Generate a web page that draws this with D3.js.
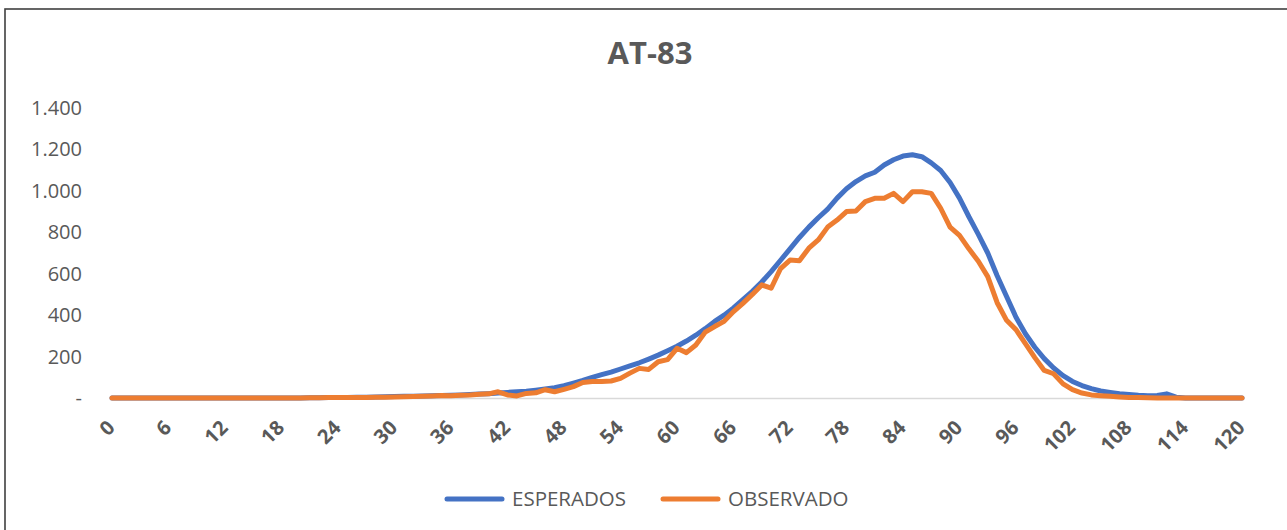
<!DOCTYPE html>
<html>
<head>
<meta charset="utf-8">
<script src="https://cdn.jsdelivr.net/npm/d3@7"></script>
<style>
  body { margin: 0; background: #fff; }
  text { font-family: "Open Sans", sans-serif; fill: #595959; }
</style>
</head>
<body>
<svg class="chart"></svg>
<script>
// AT-83 chart

var categories = [
  0, 1, 2, 3, 4, 5, 6, 7, 8, 9, 10, 11, 12, 13, 14, 15, 16, 17, 18, 19,
  20, 21, 22, 23, 24, 25, 26, 27, 28, 29, 30, 31, 32, 33, 34, 35, 36, 37, 38, 39,
  40, 41, 42, 43, 44, 45, 46, 47, 48, 49, 50, 51, 52, 53, 54, 55, 56, 57, 58, 59,
  60, 61, 62, 63, 64, 65, 66, 67, 68, 69, 70, 71, 72, 73, 74, 75, 76, 77, 78, 79,
  80, 81, 82, 83, 84, 85, 86, 87, 88, 89, 90, 91, 92, 93, 94, 95, 96, 97, 98, 99,
  100, 101, 102, 103, 104, 105, 106, 107, 108, 109, 110, 111, 112, 113, 114, 115, 116, 117, 118, 119,
  120
];

var esperados = [
  0, 0, 0, 0, 0, 0, 0, 0, 0, 0, 0, 0, 0, 0, 0, 0, 0, 0, 0, 0,
  0, 1, 1, 2, 3, 3, 4, 4, 5, 6, 7, 8, 9, 10, 11, 12, 13, 15, 17, 19,
  21, 24, 27, 30, 33, 38, 44, 50, 60, 72, 85, 100, 113, 125, 140, 155, 170, 188, 207, 228,
  250, 275, 303, 335, 370, 400, 435, 475, 515, 560, 610, 665, 720, 775, 825, 870, 912, 965, 1010, 1045,
  1072, 1090, 1125, 1150, 1168, 1174, 1165, 1135, 1098, 1040, 965, 875, 790, 700, 590, 490, 390, 310, 245, 190,
  145, 108, 80, 60, 45, 34, 27, 21, 17, 13, 11, 12, 20, 4, 0, 0, 0, 0, 0, 0,
  0
];

var observado = [
  0, 0, 0, 0, 0, 0, 0, 0, 0, 0, 0, 0, 0, 0, 0, 0, 0, 0, 0, 0,
  0, 1, 1, 2, 3, 2, 3, 3, 4, 4, 5, 6, 7, 8, 10, 12, 11, 13, 14, 18,
  20, 30, 15, 10, 22, 25, 40, 30, 42, 55, 75, 80, 80, 82, 95, 120, 143, 138, 175, 185,
  240, 219, 256, 318, 345, 370, 417, 457, 500, 546, 530, 625, 666, 663, 723, 763, 825, 859, 900, 903,
  948, 964, 964, 988, 948, 996, 996, 988, 916, 825, 785, 720, 660, 586, 460, 375, 330, 262, 195, 133,
  117, 68, 40, 24, 15, 11, 8, 5, 3, 2, 1, 0, 0, 0, 0, 0, 0, 0, 0, 0,
  0
];

var xTicks = [0, 6, 12, 18, 24, 30, 36, 42, 48, 54, 60, 66, 72, 78, 84, 90, 96, 102, 108, 114, 120];
var yTicks = [0, 200, 400, 600, 800, 1000, 1200, 1400];

var seriesNames = ['ESPERADOS', 'OBSERVADO'];
var seriesColors = ['#4472C4', '#ED7D31'];

var width = 1287;
var height = 530;

var svg = d3.select('.chart')
  .attr('width', width)
  .attr('height', height);

// frame
svg.append('rect')
  .attr('x', 5)
  .attr('y', 9)
  .attr('width', width + 10)
  .attr('height', height + 10)
  .attr('fill', '#fff')
  .attr('stroke', '#404040')
  .attr('stroke-width', 1.6);

var x = d3.scaleLinear()
  .domain([0, 120])
  .range([112, 1242]);

var y = d3.scaleLinear()
  .domain([0, 1400])
  .range([398, 108]);

var loc = d3.formatLocale({ decimal: ',', thousands: '.', grouping: [3], currency: ['', ''] });
var fmt = loc.format(',d');

// title
svg.append('text')
  .attr('x', 650)
  .attr('y', 64)
  .attr('text-anchor', 'middle')
  .style('font-size', '31px')
  .style('font-weight', 'bold')
  .text('AT-83');

// y axis labels
svg.append('g')
  .selectAll('text')
  .data(yTicks)
  .enter().append('text')
    .attr('x', 82)
    .attr('y', (d) => y(d))
    .attr('dy', '.35em')
    .attr('text-anchor', 'end')
    .style('font-size', '20px')
    .text((d) => d === 0 ? '-' : fmt(d));

// x axis line
var xAxis = d3.axisBottom(x)
  .tickValues(xTicks)
  .tickSize(0)
  .tickFormat('');

var xg = svg.append('g')
  .attr('transform', 'translate(0,' + y(0) + ')')
  .call(xAxis);
xg.select('.domain').attr('stroke', '#d9d9d9').attr('stroke-width', 1.5);

// rotated x labels
svg.append('g')
  .selectAll('text')
  .data(xTicks)
  .enter().append('text')
    .attr('transform', (d) => 'translate(' + (x(d) + 4) + ',429) rotate(-45)')
    .attr('text-anchor', 'end')
    .style('font-size', '20px')
    .style('font-weight', 'bold')
    .text((d) => d);

// lines
var line = d3.line()
  .x((d, i) => x(categories[i]))
  .y((d) => y(d));

[esperados, observado].forEach((s, k) => {
  svg.append('path')
    .datum(s)
    .attr('d', line)
    .attr('fill', 'none')
    .attr('stroke', seriesColors[k])
    .attr('stroke-width', 5)
    .attr('stroke-linejoin', 'round')
    .attr('stroke-linecap', 'round');
});

// legend
var legend = svg.append('g')
  .selectAll('g')
  .data(seriesNames)
  .enter().append('g')
  .attr('transform', (d, i) => 'translate(' + (447 + i * 216) + ',499)');

legend.append('line')
  .attr('x1', 0)
  .attr('x2', 55)
  .attr('stroke', (d, i) => seriesColors[i])
  .attr('stroke-width', 5)
  .attr('stroke-linecap', 'round');

legend.append('text')
  .attr('x', 65)
  .attr('dy', '.35em')
  .style('font-size', '20.5px')
  .text((d) => d);
</script>
</body>
</html>
